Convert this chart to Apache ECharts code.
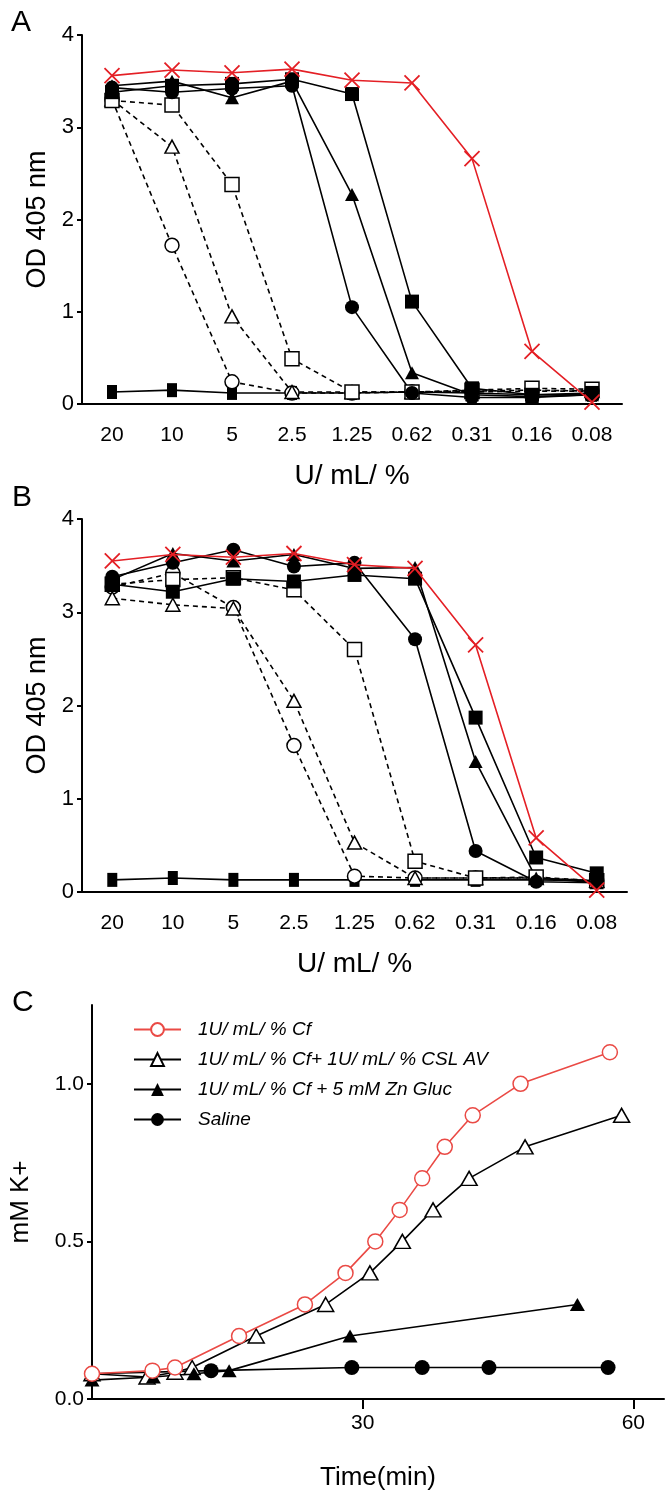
<!DOCTYPE html>
<html><head><meta charset="utf-8">
<script src="https://cdn.jsdelivr.net/npm/echarts@6/dist/echarts.min.js"></script>
<style>html,body{margin:0;padding:0;background:#fff}#c{width:672px;height:1499px}</style>
</head><body><div id="c"></div>
<script>
// ---------- data ----------
const categories = ['20', '10', '5', '2.5', '1.25', '0.62', '0.31', '0.16', '0.08'];

// Panel A
const aCf            = [3.56, 3.62, 3.59, 3.63, 3.51, 3.48, 2.66, 0.57, 0.02];
const aSquareFilled  = [3.38, 3.45, 3.47, 3.52, 3.36, 1.11, 0.17, 0.10, 0.12];
const aTriangleFilled= [3.45, 3.50, 3.32, 3.50, 2.27, 0.34, 0.10, 0.08, 0.10];
const aCircleFilled  = [3.43, 3.38, 3.42, 3.45, 1.05, 0.12, 0.07, 0.07, 0.10];
const aSquareOpen    = [3.29, 3.24, 2.38, 0.49, 0.13, 0.13, 0.15, 0.17, 0.16];
const aTriangleOpen  = [3.30, 2.79, 0.95, 0.13, 0.13, 0.13, 0.13, 0.14, 0.14];
const aCircleOpen    = [3.30, 1.72, 0.24, 0.12, 0.12, 0.13, 0.14, 0.15, 0.14];
const aBaseline      = [0.13, 0.15, 0.12, 0.12, 0.12, 0.13, 0.12, 0.10, 0.10];

// Panel B
const bCf            = [3.55, 3.62, 3.59, 3.63, 3.51, 3.47, 2.65, 0.58, 0.02];
const bSquareFilled  = [3.30, 3.22, 3.36, 3.33, 3.40, 3.36, 1.87, 0.37, 0.20];
const bTriangleFilled= [3.35, 3.63, 3.55, 3.62, 3.47, 3.48, 1.40, 0.15, 0.10];
const bCircleFilled  = [3.38, 3.53, 3.67, 3.49, 3.53, 2.71, 0.44, 0.11, 0.10];
const bSquareOpen    = [3.30, 3.35, 3.37, 3.24, 2.60, 0.33, 0.15, 0.16, 0.12];
const bTriangleOpen  = [3.15, 3.08, 3.04, 2.05, 0.53, 0.15, 0.15, 0.15, 0.12];
const bCircleOpen    = [3.27, 3.42, 3.05, 1.57, 0.17, 0.15, 0.15, 0.15, 0.12];
const bBaseline      = [0.13, 0.15, 0.13, 0.13, 0.13, 0.13, 0.13, 0.13, 0.12];

// Panel C  [time (min), mM K+]
const cNames = ['1U/ mL/ % Cf', '1U/ mL/ % Cf+ 1U/ mL/ % CSL AV', '1U/ mL/ % Cf + 5 mM Zn Gluc', 'Saline'];
const cCf = [[0,0.08],[6.7,0.09],[9.2,0.10],[16.3,0.20],[23.6,0.30],[28.1,0.40],[31.4,0.50],[34.1,0.60],[36.6,0.70],[39.1,0.80],[42.2,0.90],[47.5,1.00],[57.4,1.10]];
const cAv = [[0,0.08],[6.1,0.07],[9.2,0.085],[11.1,0.10],[18.2,0.20],[25.9,0.30],[30.8,0.40],[34.4,0.50],[37.8,0.60],[41.8,0.70],[48.0,0.80],[58.7,0.90]];
const cZn = [[0,0.06],[6.8,0.07],[11.3,0.08],[15.2,0.09],[28.6,0.20],[53.8,0.30]];
const cSaline = [[0,0.08],[13.2,0.09],[28.8,0.10],[36.6,0.10],[44.0,0.10],[57.2,0.10]];

// ---------- styling ----------
const FONT = "'Liberation Sans', Arial, Helvetica, sans-serif";
const RED = '#e41f25';
const RED_C = '#ea4a45';
const X_PATH = 'path://M0,0L10,10M10,0L0,10';

function catAxis(gridIndex) {
  return {
    type: 'category', gridIndex, data: categories, boundaryGap: true,
    name: 'U/ mL/ %', nameLocation: 'middle', nameGap: 58,
    nameTextStyle: { fontFamily: FONT, fontSize: 28, color: '#000' },
    axisLine: { lineStyle: { color: '#000', width: 2 } },
    axisTick: { alignWithLabel: true, length: 9, lineStyle: { color: '#000', width: 2 } },
    axisLabel: { fontFamily: FONT, fontSize: 21, color: '#000', margin: 21 },
    splitLine: { show: false }
  };
}
function odAxis(gridIndex) {
  return {
    type: 'value', gridIndex, min: 0, max: 4, interval: 1,
    name: 'OD 405 nm', nameLocation: 'middle', nameGap: 25, nameRotate: 90,
    nameTextStyle: { fontFamily: FONT, fontSize: 27, color: '#000' },
    axisLine: { show: true, lineStyle: { color: '#000', width: 2 } },
    axisTick: { show: true, length: 5, lineStyle: { color: '#000', width: 2 } },
    axisLabel: { fontFamily: FONT, fontSize: 22, color: '#000', margin: 8 },
    splitLine: { show: false }
  };
}
function doseSeries(idx, data, kind) {
  const base = { type: 'line', xAxisIndex: idx, yAxisIndex: idx, data, z: 3 };
  const blackLine = { color: '#000', width: 1.6, type: 'solid' };
  const dashed = { color: '#000', width: 1.6, type: [5, 4] };
  switch (kind) {
    case 'cf': return Object.assign(base, { symbol: X_PATH, symbolSize: 15, z: 5,
      lineStyle: { color: RED, width: 1.6 }, itemStyle: { color: RED, borderColor: RED, borderWidth: 1.8 } });
    case 'sqF': return Object.assign(base, { symbol: 'rect', symbolSize: 14, lineStyle: blackLine, itemStyle: { color: '#000' } });
    case 'triF': return Object.assign(base, { symbol: 'triangle', symbolSize: [14, 13], lineStyle: blackLine, itemStyle: { color: '#000' } });
    case 'cirF': return Object.assign(base, { symbol: 'circle', symbolSize: 14, lineStyle: blackLine, itemStyle: { color: '#000' } });
    case 'sqO': return Object.assign(base, { symbol: 'rect', symbolSize: 14, lineStyle: dashed, itemStyle: { color: '#fff', borderColor: '#000', borderWidth: 1.5 } });
    case 'triO': return Object.assign(base, { symbol: 'triangle', symbolSize: [14, 13], lineStyle: dashed, itemStyle: { color: '#fff', borderColor: '#000', borderWidth: 1.5 } });
    case 'cirO': return Object.assign(base, { symbol: 'circle', symbolSize: 14, lineStyle: dashed, itemStyle: { color: '#fff', borderColor: '#000', borderWidth: 1.5 } });
    case 'base': return Object.assign(base, { symbol: 'rect', symbolSize: [10, 14], lineStyle: blackLine, itemStyle: { color: '#000' } });
  }
}

const series = [];
[[0, [aBaseline, aCircleOpen, aTriangleOpen, aSquareOpen, aCircleFilled, aTriangleFilled, aSquareFilled, aCf]],
 [1, [bBaseline, bCircleOpen, bTriangleOpen, bSquareOpen, bCircleFilled, bTriangleFilled, bSquareFilled, bCf]]]
.forEach(([idx, arrs]) => {
  const kinds = ['base', 'cirO', 'triO', 'sqO', 'cirF', 'triF', 'sqF', 'cf'];
  arrs.forEach((d, i) => series.push(doseSeries(idx, d, kinds[i])));
});

const cLine = { color: '#000', width: 1.6 };
series.push(
  { name: cNames[0], type: 'line', xAxisIndex: 2, yAxisIndex: 2, data: cCf, symbol: 'circle', symbolSize: 15, z: 5,
    lineStyle: { color: RED_C, width: 1.6 }, itemStyle: { color: '#fff', borderColor: RED_C, borderWidth: 1.5 } },
  { name: cNames[1], type: 'line', xAxisIndex: 2, yAxisIndex: 2, data: cAv, symbol: 'triangle', symbolSize: [16, 14],
    lineStyle: cLine, itemStyle: { color: '#fff', borderColor: '#000', borderWidth: 1.5 } },
  { name: cNames[2], type: 'line', xAxisIndex: 2, yAxisIndex: 2, data: cZn, symbol: 'triangle', symbolSize: [15, 13],
    lineStyle: cLine, itemStyle: { color: '#000' } },
  { name: cNames[3], type: 'line', xAxisIndex: 2, yAxisIndex: 2, data: cSaline, symbol: 'circle', symbolSize: 15,
    lineStyle: cLine, itemStyle: { color: '#000' } }
);

const option = {
  animation: false,
  backgroundColor: '#fff',
  textStyle: { fontFamily: FONT },
  grid: [
    { left: 82, top: 35, width: 540, height: 369 },
    { left: 82, top: 519, width: 545, height: 373 },
    { left: 92, top: 1005, width: 572, height: 394 }
  ],
  xAxis: [
    catAxis(0), catAxis(1),
    { type: 'value', gridIndex: 2, min: 0, max: 63.4, interval: 30,
      name: 'Time(min)', nameLocation: 'middle', nameGap: 66,
      nameTextStyle: { fontFamily: FONT, fontSize: 26, color: '#000' },
      axisLine: { lineStyle: { color: '#000', width: 2 } },
      axisTick: { show: true, length: 10, customValues: [30, 60], lineStyle: { color: '#000', width: 2 } },
      axisLabel: { fontFamily: FONT, fontSize: 21, color: '#000', margin: 14, customValues: [30, 60] },
      splitLine: { show: false } }
  ],
  yAxis: [
    odAxis(0), odAxis(1),
    { type: 'value', gridIndex: 2, min: 0, max: 1.25, interval: 0.25,
      name: 'mM K+', nameLocation: 'middle', nameGap: 58, nameRotate: 90,
      nameTextStyle: { fontFamily: FONT, fontSize: 26, color: '#000' },
      axisLine: { show: true, lineStyle: { color: '#000', width: 2 } },
      axisTick: { show: true, length: 5, customValues: [0, 0.5, 1], lineStyle: { color: '#000', width: 2 } },
      axisLabel: { fontFamily: FONT, fontSize: 21, color: '#000', margin: 8, customValues: [0, 0.5, 1],
        formatter: v => v.toFixed(1) },
      splitLine: { show: false } }
  ],
  legend: {
    data: cNames, orient: 'vertical', left: 128, top: 1015,
    itemWidth: 47, itemHeight: 16, itemGap: 11,
    textStyle: { fontFamily: FONT, fontSize: 19, fontStyle: 'italic', color: '#000', padding: [0, 0, 0, 12] }
  },
  graphic: [
    { type: 'text', left: 11, top: 8, style: { text: 'A', font: '30px ' + FONT, fill: '#000' } },
    { type: 'text', left: 12, top: 483, style: { text: 'B', font: '30px ' + FONT, fill: '#000' } },
    { type: 'text', left: 12, top: 988, style: { text: 'C', font: '30px ' + FONT, fill: '#000' } }
  ],
  series
};
const chart = echarts.init(document.getElementById('c'), null, { renderer: 'canvas' });
chart.setOption(option);
</script></body></html>
